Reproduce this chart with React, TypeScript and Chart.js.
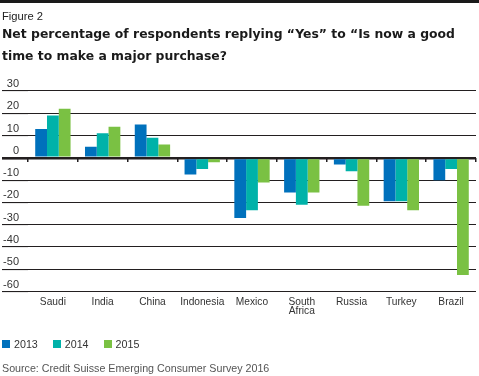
import { useEffect, useRef } from 'react';
import { Chart, registerables } from 'chart.js';

Chart.register(...registerables);

const categories: (string | string[])[] = ['Saudi', 'India', 'China', 'Indonesia', 'Mexico', ['South', 'Africa'], 'Russia', 'Turkey', 'Brazil'];
const seriesNames = ['2013', '2014', '2015'];
const values2013 = [13, 5, 15, -7.5, -27, -15.5, -3, -19.5, -10];
const values2014 = [19, 11, 9, -5, -23.5, -21, -6, -19.5, -5];
const values2015 = [22, 14, 6, -2, -11, -15.5, -21.5, -23.5, -52.5];
const seriesValues = [values2013, values2014, values2015];
const seriesColors = ['#0071bc', '#00b2a9', '#7ac143'];
const yMin = -60;
const yMax = 30;
const yStep = 10;

const titleText = 'Net percentage of respondents replying “Yes” to “Is now a good time to make a major purchase?';
const figureText = 'Figure 2';
const sourceText = 'Source: Credit Suisse Emerging Consumer Survey 2016';

const SANS = '"Liberation Sans", Arial, sans-serif';
const GRID = '#231f20';

export default function App() {
  const ref = useRef<HTMLCanvasElement>(null);

  useEffect(() => {
    document.body.style.margin = '0';
    const lw = (c: any) => (c.tick && c.tick.value === 0 ? 2.6 : 1.1);
    const chart = new Chart(ref.current!, {
      type: 'bar',
      data: {
        labels: categories as any,
        datasets: seriesNames.map((n, i) => ({
          label: n,
          data: seriesValues[i],
          backgroundColor: seriesColors[i],
          borderWidth: 0,
          barPercentage: 1,
          categoryPercentage: 0.71,
        })),
      },
      options: {
        animation: false,
        responsive: false,
        layout: { padding: { left: 2, right: 3, top: 91, bottom: 54 } },
        plugins: { legend: { display: false }, tooltip: { enabled: false } },
        scales: {
          x: {
            type: 'category',
            grid: { display: false, drawTicks: false },
            border: { display: false },
            ticks: {
              padding: 5.5,
              color: '#333',
              font: { family: SANS, size: 10.2, lineHeight: 0.95 },
              maxRotation: 0,
              autoSkip: false,
            },
          },
          x2: {
            type: 'category',
            position: { y: 0 } as any,
            offset: true,
            grid: {
              offset: true,
              drawOnChartArea: false,
              drawTicks: true,
              tickLength: 4,
              color: GRID,
              lineWidth: 1.5,
            },
            border: { display: false },
            ticks: { display: false },
          },
          y: {
            min: yMin,
            max: yMax,
            ticks: {
              stepSize: yStep,
              padding: -17,
              labelOffset: -7,
              color: '#333',
              font: { family: SANS, size: 11 },
            },
            grid: {
              color: GRID,
              lineWidth: lw,
              tickWidth: lw,
              tickColor: GRID,
              tickLength: 26,
              drawTicks: true,
            },
            border: { display: false },
            afterFit: (s: any) => {
              s.width = 26;
            },
          },
        },
      } as any,
    });
    return () => chart.destroy();
  }, []);

  return (
    <div style={{ position: 'relative', width: 479, height: 376, overflow: 'hidden', fontFamily: SANS }}>
      <canvas ref={ref} width={479} height={376} style={{ position: 'absolute', left: 0, top: 0, display: 'block' }} />
      <div style={{ position: 'absolute', left: 0, top: 0, width: 479, height: 3, background: '#1a1a1a' }} />
      <div style={{ position: 'absolute', left: 2, top: 9.6, fontSize: 11.2, lineHeight: '13px', color: '#222', whiteSpace: 'nowrap' }}>{figureText}</div>
      <div style={{ position: 'absolute', left: 2, top: 23.3, width: 470, fontFamily: '"DejaVu Sans", sans-serif', fontWeight: 'bold', fontSize: 12.4, lineHeight: '22px', color: '#1a1a1a' }}>{titleText}</div>
      <div style={{ position: 'absolute', left: 2, top: 337.8, display: 'flex', alignItems: 'center', fontSize: 10.7, lineHeight: '13px', color: '#333' }}>
        {seriesNames.map((n, i) => (
          <div key={n} style={{ display: 'flex', alignItems: 'center', marginRight: 15 }}>
            <span style={{ width: 8, height: 8, background: seriesColors[i], display: 'inline-block', marginRight: 4 }} />
            <span>{n}</span>
          </div>
        ))}
      </div>
      <div style={{ position: 'absolute', left: 2, top: 361.5, fontSize: 10.7, lineHeight: '13px', color: '#555', whiteSpace: 'nowrap' }}>{sourceText}</div>
    </div>
  );
}
